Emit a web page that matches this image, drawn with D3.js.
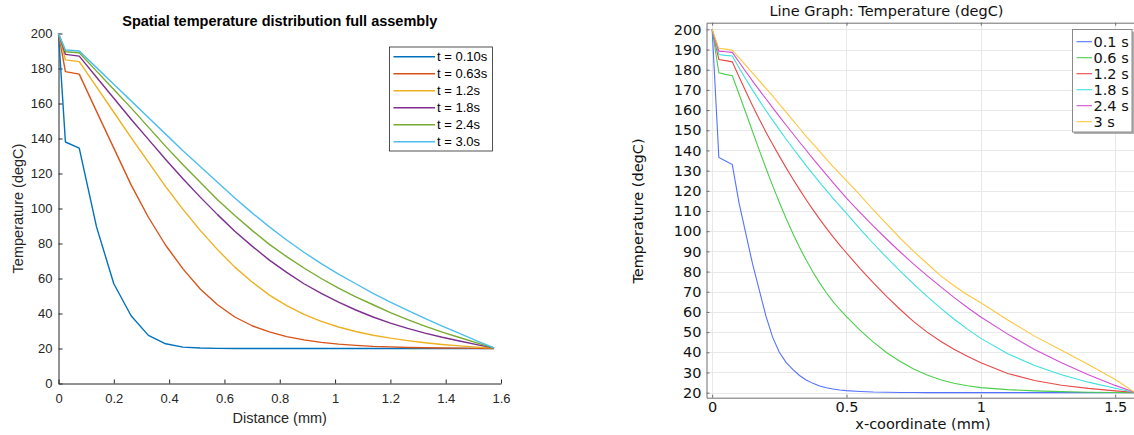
<!DOCTYPE html>
<html>
<head>
<meta charset="utf-8">
<script src="https://cdn.jsdelivr.net/npm/d3@7"></script>
<style>
  body { margin: 0; background: #fff; }
  svg { display: block; }
</style>
</head>
<body>
<svg width="1134" height="435"></svg>
<script>
// ---- left panel (MATLAB export), distance in mm
var distL = [0, 0.025, 0.075, 0.1375, 0.2, 0.2625, 0.325, 0.3875, 0.45, 0.5125, 0.575, 0.6375, 0.7,
    0.7625, 0.825, 0.8875, 0.95, 1.0125, 1.075, 1.1375, 1.2, 1.2625, 1.325, 1.3875, 1.45, 1.5125, 1.575];
var leftT010 = [200, 138, 134.5, 89.5, 57, 38.7, 27.5, 22.7, 20.8, 20.3, 20.1, 20, 20, 20, 20, 20, 20, 20, 20, 20, 20, 20, 20, 20, 20, 20, 20];
var leftT063 = [200, 178.2, 176.8, 155.5, 134.5, 113.5, 95, 79, 65.5, 54, 45, 38, 33, 29.5, 26.8, 24.9, 23.5, 22.5, 21.8, 21.2, 20.9, 20.6, 20.4, 20.3, 20.2, 20.1, 20];
var leftT12 = [200, 184.9, 183.9, 169.5, 155, 140.5, 126.5, 112.5, 99.5, 87.5, 76.5, 66.5, 58, 50.5, 44.5, 39.5, 35.5, 32.3, 29.7, 27.6, 25.9, 24.5, 23.3, 22.3, 21.5, 20.8, 20.2];
var leftT18 = [200, 188.1, 187.1, 175, 163, 151, 139.5, 128, 117, 106.5, 96.5, 87, 78.5, 70.5, 63.5, 57, 51.5, 46.5, 42, 38, 34.5, 31.5, 28.8, 26.4, 24.3, 22.2, 20.3];
var leftT24 = [200, 189.6, 189, 178.5, 168, 157.5, 146.5, 135.5, 125, 115, 105, 96, 87.5, 79.5, 72.5, 66, 60, 54.5, 49.5, 45, 40.5, 36.5, 32.8, 29.4, 26.3, 23.2, 20.3];
var leftT30 = [200, 190.6, 190, 180.5, 171, 161.5, 152, 142.5, 133, 124, 115, 106, 97.5, 89.5, 82, 75, 68.5, 62.5, 57, 51.5, 46.5, 41.8, 37.2, 32.8, 28.6, 24.4, 20.4];
var leftNames = ["t = 0.10s", "t = 0.63s", "t = 1.2s", "t = 1.8s", "t = 2.4s", "t = 3.0s"];
var leftColors = ["#0072BD", "#D95319", "#EDB120", "#7E2F8E", "#77AC30", "#4DBEEE"];
var leftXTicks = [0, 0.2, 0.4, 0.6, 0.8, 1, 1.2, 1.4, 1.6];
var leftYTicks = [0, 20, 40, 60, 80, 100, 120, 140, 160, 180, 200];

// ---- right panel (COMSOL line graph)
var distR = [0, 0.025, 0.05, 0.075, 0.1, 0.125, 0.15, 0.175, 0.2, 0.225, 0.25, 0.275, 0.3, 0.325, 0.35, 0.375,
    0.4, 0.425, 0.45, 0.475, 0.5, 0.55, 0.6, 0.65, 0.7, 0.75, 0.8, 0.85, 0.9, 0.95, 1.0, 1.1, 1.2, 1.3, 1.4, 1.5, 1.57];
var rightT01 = [200, 136.5, 134.8, 133, 114, 99, 84, 71, 58, 47.5, 40, 35, 31.5, 28.5, 26.3, 24.6, 23.3, 22.4, 21.8, 21.3, 21,
    20.6, 20.3, 20.2, 20.1, 20.05, 20, 20, 20, 20, 20, 20, 20, 20, 20, 20, 20];
var rightT06 = [200, 178.5, 177.7, 177, 168, 158.8, 149.5, 140.3, 131.3, 122.6, 114.3, 106.4, 99, 92.1, 85.7, 79.8, 74.4, 69.5, 65.1, 61.2, 57.7,
    51, 45, 39.8, 35.4, 31.7, 28.7, 26.4, 24.7, 23.4, 22.5, 21.5, 20.9, 20.5, 20.2, 20.1, 20];
var rightT12 = [200, 185.1, 184.5, 183.9, 176.5, 169.3, 162.3, 155.6, 149.2, 143.1, 137.2, 131.5, 126, 120.7, 115.6, 110.7, 106, 101.5, 97.2, 93.1, 89.2,
    81.6, 74.4, 67.6, 61.2, 55.2, 50, 45.5, 41.5, 38, 34.8, 29.5, 26, 23.7, 22.1, 20.9, 20.2];
var rightT18 = [200, 187.5, 187.1, 186.8, 181, 175.4, 170, 164.8, 159.8, 155, 150.3, 145.7, 141.2, 136.8, 132.5, 128.3, 124.2, 120.2, 116.3, 112.5, 108.8,
    101.2, 93.9, 86.9, 80.2, 73.8, 67.7, 61.9, 56.5, 51.5, 46.9, 39.3, 33.5, 28.9, 25.2, 22.2, 20.2];
var rightT24 = [200, 189.2, 188.9, 188.6, 183.8, 179.1, 174.5, 170, 165.6, 161.2, 156.9, 152.6, 148.4, 144.2, 140.1, 136, 132, 128, 124.1, 120.2, 116.4,
    109.3, 102.5, 96, 89.7, 83.7, 78, 72.5, 67.2, 62.2, 57.5, 49, 41.4, 34.8, 28.9, 23.6, 20.3];
var rightT3 = [200, 190.6, 190.2, 189.7, 186, 182.2, 178.4, 174.6, 170.8, 167, 163, 159, 155, 151, 147, 143.3, 139.5, 135.7, 132, 128.5, 125,
    118, 110.5, 103.5, 96.5, 90, 84, 78, 73, 68.5, 64.5, 56, 48, 41, 34, 26.5, 20.4];
var rightNames = ["0.1 s", "0.6 s", "1.2 s", "1.8 s", "2.4 s", "3 s"];
var rightColors = ["#5572ff", "#4ccf4c", "#e84848", "#3ee0e0", "#d24fd2", "#ffc640"];
var rightXTicks = [0, 0.5, 1, 1.5];
var rightYTicks = d3.range(20, 201, 10);

var svg = d3.select("svg");

// ================= left chart =================
var xL = d3.scaleLinear().domain([0, 1.6]).range([58.5, 501]);
var yL = d3.scaleLinear().domain([0, 200]).range([383.5, 33.5]);
var matlabFont = "'Liberation Sans', Arial, Helvetica, sans-serif";

var left = svg.append("g").style("font-family", matlabFont);

var axL = left.append("g")
    .attr("transform", "translate(0," + yL(0) + ")")
    .call(d3.axisBottom(xL).tickValues(leftXTicks).tickFormat(d3.format("~g"))
        .tickSize(-4).tickSizeOuter(0).tickPadding(10));
var ayL = left.append("g")
    .attr("transform", "translate(" + xL(0) + ",0)")
    .call(d3.axisLeft(yL).tickValues(leftYTicks).tickSize(-4).tickSizeOuter(0).tickPadding(6));
[axL, ayL].forEach(function (a) {
    a.selectAll("path, line").attr("stroke", "#262626");
    a.selectAll("text").attr("fill", "#262626").style("font-size", "13px").style("font-family", matlabFont);
});

var lineL = d3.line()
    .x(function (d) { return xL(d[0]); })
    .y(function (d) { return yL(d[1]); });

[leftT010, leftT063, leftT12, leftT18, leftT24, leftT30].forEach(function (s, i) {
    left.append("path")
        .datum(d3.zip(distL, s))
        .attr("fill", "none")
        .attr("stroke", leftColors[i])
        .attr("stroke-width", 1.4)
        .attr("stroke-linejoin", "round")
        .attr("d", lineL);
});

left.append("text")
    .attr("x", (xL(0) + xL(1.6)) / 2).attr("y", 26)
    .attr("text-anchor", "middle")
    .style("font-size", "14.5px").style("font-weight", "bold")
    .text("Spatial temperature distribution full assembly");

left.append("text")
    .attr("x", (xL(0) + xL(1.6)) / 2).attr("y", 423)
    .attr("text-anchor", "middle").attr("fill", "#262626")
    .style("font-size", "14.5px")
    .text("Distance (mm)");

left.append("text")
    .attr("transform", "translate(23," + yL(100) + ") rotate(-90)")
    .attr("text-anchor", "middle").attr("fill", "#262626")
    .style("font-size", "14.5px")
    .text("Temperature (degC)");

// legend
var legL = left.append("g");
legL.append("rect")
    .attr("x", 389.5).attr("y", 47).attr("width", 103).attr("height", 104)
    .attr("fill", "#fff").attr("stroke", "#262626").attr("stroke-width", 0.8);
leftNames.forEach(function (n, i) {
    var yy = 56.7 + i * 17;
    legL.append("line")
        .attr("x1", 393.5).attr("x2", 435).attr("y1", yy).attr("y2", yy)
        .attr("stroke", leftColors[i]).attr("stroke-width", 1.4);
    legL.append("text")
        .attr("x", 437).attr("y", yy + 4.5)
        .attr("fill", "#000").style("font-size", "13px")
        .text(n);
});

// ================= right chart =================
var xR = d3.scaleLinear().domain([-0.021, 1.57]).range([706.5, 1134]);
var yR = d3.scaleLinear().domain([17.5, 203.3]).range([397.7, 22.7]);
var comsolFont = "'DejaVu Sans', Verdana, sans-serif";

var right = svg.append("g").style("font-family", comsolFont);

// grid
right.append("g").selectAll("line.gy").data(rightYTicks).enter().append("line")
    .attr("x1", xR.range()[0]).attr("x2", xR.range()[1])
    .attr("y1", function (d) { return Math.round(yR(d)) + 0.5; })
    .attr("y2", function (d) { return Math.round(yR(d)) + 0.5; })
    .attr("stroke", "#e8e8e8");
right.append("g").selectAll("line.gx").data(rightXTicks).enter().append("line")
    .attr("y1", yR.range()[0]).attr("y2", yR.range()[1])
    .attr("x1", function (d) { return Math.round(xR(d)) + 0.5; })
    .attr("x2", function (d) { return Math.round(xR(d)) + 0.5; })
    .attr("stroke", "#e8e8e8");

var axR = right.append("g")
    .attr("transform", "translate(0," + yR.range()[0] + ")")
    .call(d3.axisBottom(xR).tickValues(rightXTicks).tickFormat(d3.format("~g"))
        .tickSize(-3).tickSizeOuter(0).tickPadding(4));
var axRtop = right.append("g")
    .attr("transform", "translate(0," + yR.range()[1] + ")")
    .call(d3.axisTop(xR).tickValues(rightXTicks).tickFormat("").tickSize(-3).tickSizeOuter(0));
var ayR = right.append("g")
    .attr("transform", "translate(" + xR.range()[0] + ",0)")
    .call(d3.axisLeft(yR).tickValues(rightYTicks).tickSize(-3).tickSizeOuter(0).tickPadding(5));
[axR, axRtop, ayR].forEach(function (a) {
    a.selectAll("path, line").attr("stroke", "#6e6e6e");
    a.selectAll("text").attr("fill", "#111").style("font-size", "14.5px").style("font-family", comsolFont);
});

var lineR = d3.line()
    .x(function (d) { return xR(d[0]); })
    .y(function (d) { return yR(d[1]); });

[rightT01, rightT06, rightT12, rightT18, rightT24, rightT3].forEach(function (s, i) {
    right.append("path")
        .datum(d3.zip(distR, s))
        .attr("fill", "none")
        .attr("stroke", rightColors[i])
        .attr("stroke-width", 1.1)
        .attr("d", lineR);
});

right.append("text")
    .attr("x", 886.5).attr("y", 16)
    .attr("text-anchor", "middle").attr("fill", "#111")
    .style("font-size", "14.5px")
    .text("Line Graph: Temperature (degC)");

right.append("text")
    .attr("x", 923).attr("y", 429)
    .attr("text-anchor", "middle").attr("fill", "#111")
    .style("font-size", "14.5px")
    .text("x-coordinate (mm)");

right.append("text")
    .attr("transform", "translate(643," + yR(110) + ") rotate(-90)")
    .attr("text-anchor", "middle").attr("fill", "#111")
    .style("font-size", "14.5px")
    .text("Temperature (degC)");

// legend with drop shadow
var legR = right.append("g");
legR.append("rect")
    .attr("x", 1074).attr("y", 31.5).attr("width", 60).attr("height", 102.5)
    .attr("fill", "#b0b0b0");
legR.append("rect")
    .attr("x", 1072.5).attr("y", 29.5).attr("width", 59.5).attr("height", 102.5)
    .attr("fill", "#fff").attr("stroke", "#8a8a8a");
rightNames.forEach(function (n, i) {
    var yy = 41.7 + i * 16;
    legR.append("line")
        .attr("x1", 1076.5).attr("x2", 1092).attr("y1", yy).attr("y2", yy)
        .attr("stroke", rightColors[i]).attr("stroke-width", 1.1);
    legR.append("text")
        .attr("x", 1093.5).attr("y", yy + 5.3)
        .attr("fill", "#111").style("font-size", "14.5px")
        .text(n);
});
</script>
</body>
</html>
